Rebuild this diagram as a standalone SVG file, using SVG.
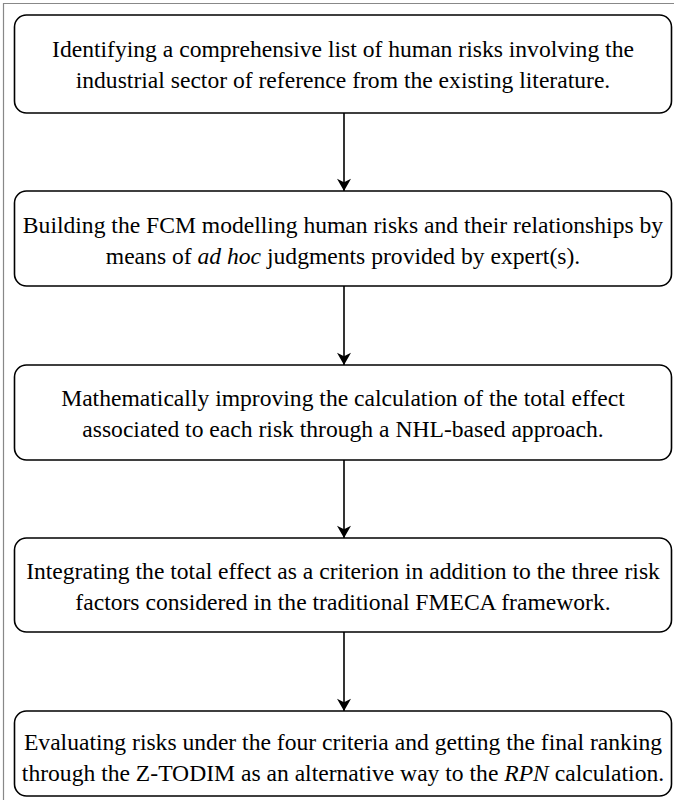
<svg xmlns="http://www.w3.org/2000/svg" width="674" height="800" viewBox="0 0 674 800">
<defs>
<style>
.box{fill:#fff;stroke:#000;stroke-width:1.6}
.c{stroke:#000;stroke-width:1.6;fill:none}
</style>
<marker id="ah" viewBox="0 0 14 16" refX="14" refY="8" markerWidth="15" markerHeight="14" markerUnits="userSpaceOnUse" orient="auto">
<path d="M0,0 L14,8 L0,16 L4,8 Z" fill="#000"/>
</marker>
</defs>
<rect x="0" y="0" width="674" height="800" fill="#fff"/>
<path d="M3.5,800 V3.5 H674" fill="none" stroke="#888" stroke-width="1.2"/>
<g font-family="'Liberation Serif', 'Times New Roman', 'DejaVu Serif', serif" font-size="23.6" text-anchor="middle" fill="#000">
<g id="node1"><rect class="box" x="14.5" y="15" width="657" height="98" rx="12"/>
<text x="343" y="57">Identifying a comprehensive list of human risks involving the</text>
<text x="343" y="88">industrial sector of reference from the existing literature.</text></g>
<g id="node2"><rect class="box" x="14.5" y="191" width="657" height="95" rx="12"/>
<text x="343" y="233">Building the FCM modelling human risks and their relationships by</text>
<text x="343" y="264">means of <tspan font-style="italic">ad hoc</tspan> judgments provided by expert(s).</text></g>
<g id="node3"><rect class="box" x="14.5" y="365" width="657" height="95" rx="12"/>
<text x="343" y="406">Mathematically improving the calculation of the total effect</text>
<text x="343" y="437">associated to each risk through a NHL-based approach.</text></g>
<g id="node4"><rect class="box" x="14.5" y="538" width="657" height="94" rx="12"/>
<text x="343" y="579">Integrating the total effect as a criterion in addition to the three risk</text>
<text x="343" y="610">factors considered in the traditional FMECA framework.</text></g>
<g id="node5"><rect class="box" x="14.5" y="711" width="657" height="85" rx="12"/>
<text x="343" y="750">Evaluating risks under the four criteria and getting the final ranking</text>
<text x="343" y="781">through the Z-TODIM as an alternative way to the <tspan font-style="italic">RPN</tspan> calculation.</text></g>
</g>
<g id="connectors">
<line class="c" x1="344" y1="113" x2="344" y2="191" marker-end="url(#ah)"/>
<line class="c" x1="344" y1="286" x2="344" y2="365" marker-end="url(#ah)"/>
<line class="c" x1="344" y1="460" x2="344" y2="538" marker-end="url(#ah)"/>
<line class="c" x1="344" y1="632" x2="344" y2="711" marker-end="url(#ah)"/>
</g>
</svg>
